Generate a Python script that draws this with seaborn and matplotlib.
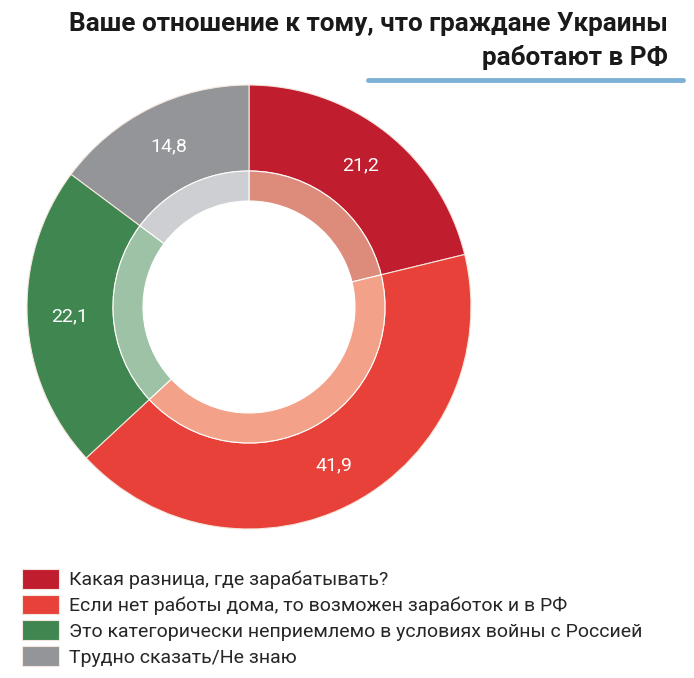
import matplotlib
matplotlib.use("Agg")
import matplotlib.pyplot as plt
import seaborn as sns
import numpy as np

labels = ["Какая разница, где зарабатывать?",
          "Если нет работы дома, то возможен заработок и в РФ",
          "Это категорически неприемлемо в условиях войны с Россией",
          "Трудно сказать/Не знаю"]
values = [21.2, 41.9, 22.1, 14.8]
value_text = ["21,2", "41,9", "22,1", "14,8"]
colors = ["#C01D2E", "#E8413A", "#3F8650", "#939598"]
light_colors = ["#DD8B7B", "#F3A189", "#9DC2A5", "#CDCFD2"]

sns.set_theme(style="white")
plt.rcParams["font.family"] = ["Roboto", "DejaVu Sans"]

fig = plt.figure(figsize=(6.94, 6.78), dpi=100)
W, H = 694, 678
cx, cy, R = 249, 307, 222
ax = fig.add_axes([(cx - R) / W, 1 - (cy + R) / H, 2 * R / W, 2 * R / H])

# outer ring + lighter inner ring
wedges, _ = ax.pie(values, colors=colors, startangle=90, counterclock=False,
                   radius=1, wedgeprops=dict(width=1 - 136 / R, edgecolor="#F4E6DC", linewidth=0.8))
ax.pie(values, colors=light_colors, startangle=90, counterclock=False,
       radius=136 / R, wedgeprops=dict(width=(136 - 106) / R, edgecolor="white", linewidth=0.8))

start = 90.0
for v, t in zip(values, value_text):
    mid = start - v * 3.6 / 2
    r = 0.81
    ax.text(r * np.cos(np.radians(mid)), r * np.sin(np.radians(mid)), t,
            ha="center", va="center", color="white", fontsize=14)
    start -= v * 3.6
ax.set_xlim(-1, 1)
ax.set_ylim(-1, 1)
ax.axis("off")

fig.text(668 / W, 1 - 24 / H, "Ваше отношение к тому, что граждане Украины",
         ha="right", va="center", fontsize=18.8, fontweight="bold", color="#1a1a1a")
fig.text(668 / W, 1 - 57 / H, "работают в РФ",
         ha="right", va="center", fontsize=18.8, fontweight="bold", color="#1a1a1a")
fig.add_artist(plt.Line2D([368 / W, 683 / W], [1 - 80 / H, 1 - 80 / H],
                          color="#7DB0D5", linewidth=3.5, transform=fig.transFigure))

fig.legend(wedges, labels, loc="upper left", bbox_to_anchor=(14 / W, 1 - 561 / H),
           frameon=False, fontsize=14, handlelength=1.9, handleheight=1.2,
           labelspacing=0.27, handletextpad=0.55, borderaxespad=0)

fig.savefig("out.png", dpi=100)
